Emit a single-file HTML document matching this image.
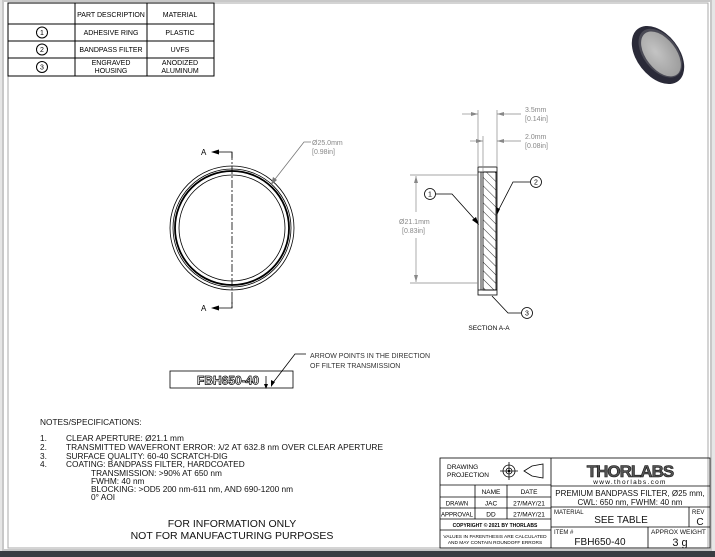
<!DOCTYPE html>
<html><head><meta charset="utf-8"><style>
html,body{margin:0;padding:0;background:#fff;}
svg{display:block;font-family:"Liberation Sans",sans-serif;}
</style></head><body>
<svg width="715" height="557" viewBox="0 0 715 557" xmlns="http://www.w3.org/2000/svg">
<defs>
<pattern id="h" width="6" height="6" patternUnits="userSpaceOnUse" patternTransform="rotate(-45)">
<line x1="0" y1="0" x2="0" y2="6" stroke="#000" stroke-width="0.8"/></pattern>
<radialGradient id="lg" cx="0.4" cy="0.4" r="0.7"><stop offset="0" stop-color="#c4c4c4"/><stop offset="1" stop-color="#9a9a9a"/></radialGradient>
</defs>
<rect width="715" height="557" fill="#e6e6e6"/>
<rect x="3" y="1" width="708" height="549" fill="#fff" stroke="#c8c8c8" stroke-width="2"/>
<rect x="8" y="3" width="700" height="545" fill="#fff" stroke="#aaa" stroke-width="1"/>
<rect x="0" y="551" width="715" height="6" fill="#3a3d42"/>

<!-- parts table -->
<g stroke="#000" stroke-width="1" fill="none">
<rect x="8" y="3" width="206" height="73"/>
<line x1="75" y1="3" x2="75" y2="76"/><line x1="147" y1="3" x2="147" y2="76"/>
<line x1="8" y1="24" x2="214" y2="24"/><line x1="8" y1="41" x2="214" y2="41"/><line x1="8" y1="58" x2="214" y2="58"/>
<circle cx="42" cy="32.5" r="5.5"/><circle cx="42" cy="49.5" r="5.5"/><circle cx="42" cy="67" r="5.5"/>
</g>
<g font-size="7" text-anchor="middle" fill="#000">
<text x="42" y="35">1</text><text x="42" y="52">2</text><text x="42" y="69.5">3</text>
<text x="111" y="17">PART DESCRIPTION</text><text x="180" y="17">MATERIAL</text>
<text x="111" y="35">ADHESIVE RING</text><text x="180" y="35">PLASTIC</text>
<text x="111" y="52">BANDPASS FILTER</text><text x="180" y="52">UVFS</text>
<text x="111" y="65">ENGRAVED</text><text x="111" y="73">HOUSING</text>
<text x="180" y="65">ANODIZED</text><text x="180" y="73">ALUMINUM</text>
</g>

<!-- 3D filter image -->
<g transform="translate(658,55) rotate(-38)">
<ellipse cx="0" cy="0" rx="21" ry="33" fill="#2a2a38"/>
<ellipse cx="3" cy="0" rx="17" ry="28" fill="#4a4a55"/>
<ellipse cx="3" cy="1" rx="15" ry="26" fill="url(#lg)"/>
</g>

<!-- front view -->
<g fill="none" stroke="#000">
<circle cx="232" cy="228" r="62" stroke-width="0.8"/>
<circle cx="232" cy="228" r="59" stroke-width="0.8"/>
<circle cx="232" cy="228" r="57" stroke-width="1.8"/>
<circle cx="232" cy="228" r="53" stroke-width="0.8"/>
<line x1="232" y1="152" x2="232" y2="308" stroke-width="0.8" stroke-dasharray="8,2,2,2"/>
<polyline points="214,152 232,152 232,158" stroke-width="0.8"/>
<polyline points="214,308 232,308 232,300" stroke-width="0.8"/>
</g>
<polygon points="211,152 219,149.5 219,154.5" fill="#000"/>
<polygon points="211,308 219,305.5 219,310.5" fill="#000"/>
<text x="201" y="155" font-size="8">A</text><text x="201" y="311" font-size="8">A</text>
<g stroke="#777" fill="none" stroke-width="0.8"><polyline points="272,183 304,142 311,142"/></g>
<polygon points="271,185 273,177 277,180" fill="#777"/>
<g font-size="7" fill="#888"><text x="312" y="145">Ø25.0mm</text><text x="312" y="154">[0.98in]</text></g>

<!-- section view -->
<g stroke="#000" fill="none" stroke-width="0.8">
<rect x="478" y="167" width="19" height="128"/>
<rect x="483" y="172" width="13" height="118" fill="url(#h)"/>
<line x1="481" y1="172" x2="481" y2="290"/>
<line x1="478" y1="172" x2="497" y2="172"/><line x1="478" y1="290" x2="497" y2="290"/>
</g>
<g stroke="#888" fill="none" stroke-width="0.7">
<line x1="478" y1="110" x2="478" y2="167"/><line x1="497" y1="110" x2="497" y2="167"/>
<line x1="462" y1="114" x2="478" y2="114"/><line x1="497" y1="114" x2="521" y2="114"/>
<line x1="483" y1="136" x2="483" y2="172"/>
<line x1="470" y1="141" x2="483" y2="141"/><line x1="497" y1="141" x2="521" y2="141"/>
<line x1="410" y1="175" x2="478" y2="175"/><line x1="410" y1="283" x2="478" y2="283"/>
<line x1="416" y1="176" x2="416" y2="212"/><line x1="416" y1="238" x2="416" y2="282"/>
</g>
<g fill="#888">
<polygon points="478,114 471,112 471,116"/><polygon points="497,114 504,112 504,116"/>
<polygon points="483,141 476,139 476,143"/><polygon points="497,141 504,139 504,143"/>
<polygon points="416,176 414,183 418,183"/><polygon points="416,282 414,275 418,275"/>
</g>
<g font-size="7" fill="#888">
<text x="525" y="112">3.5mm</text><text x="525" y="121">[0.14in]</text>
<text x="525" y="139">2.0mm</text><text x="525" y="148">[0.08in]</text>
<text x="399" y="224">Ø21.1mm</text><text x="402" y="233">[0.83in]</text>
</g>
<g stroke="#000" fill="none" stroke-width="0.8">
<circle cx="430" cy="194" r="5.5"/><polyline points="436,194 452,194 478,223"/>
<circle cx="536" cy="182" r="5.5"/><polyline points="530,182 513,182 497,213"/>
<circle cx="527" cy="313" r="5.5"/><polyline points="521,313 508,313 492,296"/>
</g>
<polygon points="479,225 472,220 476,217" fill="#000"/>
<polygon points="497,215 496,207 500,209" fill="#000"/>
<g font-size="7" text-anchor="middle"><text x="430" y="196.5">1</text><text x="536" y="184.5">2</text><text x="527" y="315.5">3</text></g>
<text x="489" y="330" font-size="6.5" text-anchor="middle">SECTION A-A</text>

<!-- engraving -->
<rect x="170" y="371" width="123" height="17" fill="none" stroke="#000" stroke-width="0.8"/>
<text x="228" y="384.5" font-size="12" font-weight="bold" text-anchor="middle" fill="#fff" stroke="#000" stroke-width="0.7">FBH650-40</text>
<g stroke="#000" fill="none" stroke-width="0.8"><line x1="266" y1="376" x2="266" y2="388"/><polyline points="272,384 295,354 306,354"/></g>
<polygon points="264,384 268,384 266,389" fill="#000"/>
<polygon points="271,387 271,380 275,382" fill="#000"/>
<g font-size="7" fill="#333"><text x="310" y="358">ARROW POINTS IN THE DIRECTION</text><text x="310" y="368">OF FILTER TRANSMISSION</text></g>

<!-- notes -->
<g font-size="8.3" fill="#111">
<text x="40" y="425">NOTES/SPECIFICATIONS:</text>
<text x="40" y="441">1.</text><text x="66" y="441">CLEAR APERTURE: Ø21.1 mm</text>
<text x="40" y="450">2.</text><text x="66" y="450" textLength="317">TRANSMITTED WAVEFRONT ERROR: λ/2 AT 632.8 nm OVER CLEAR APERTURE</text>
<text x="40" y="459">3.</text><text x="66" y="459">SURFACE QUALITY: 60-40 SCRATCH-DIG</text>
<text x="40" y="467">4.</text><text x="66" y="467">COATING: BANDPASS FILTER, HARDCOATED</text>
<text x="91" y="476">TRANSMISSION: &gt;90% AT 650 nm</text>
<text x="91" y="484">FWHM: 40 nm</text>
<text x="91" y="492">BLOCKING: &gt;OD5 200 nm-611 nm, AND 690-1200 nm</text>
<text x="91" y="500">0° AOI</text>
</g>
<g font-size="10.5" text-anchor="middle" fill="#111"><text x="232" y="527">FOR INFORMATION ONLY</text><text x="232" y="539">NOT FOR MANUFACTURING PURPOSES</text></g>

<!-- title block -->
<g stroke="#000" fill="none" stroke-width="0.8">
<rect x="440" y="458" width="270" height="90"/>
<line x1="551" y1="458" x2="551" y2="548"/>
<line x1="440" y1="485" x2="551" y2="485"/><line x1="440" y1="497" x2="551" y2="497"/>
<line x1="440" y1="508" x2="551" y2="508"/><line x1="440" y1="519" x2="551" y2="519"/>
<line x1="440" y1="530" x2="551" y2="530"/>
<line x1="475" y1="485" x2="475" y2="519"/><line x1="507" y1="485" x2="507" y2="519"/>
<line x1="551" y1="486" x2="710" y2="486"/><line x1="551" y1="507" x2="710" y2="507"/>
<line x1="551" y1="527" x2="710" y2="527"/>
<line x1="689" y1="507" x2="689" y2="527"/><line x1="648" y1="527" x2="648" y2="548"/>
<circle cx="509" cy="471" r="6"/><circle cx="509" cy="471" r="3"/>
<line x1="500" y1="471" x2="518" y2="471"/><line x1="509" y1="462" x2="509" y2="480"/>
<polygon points="524,471 532,466 543,464 543,478 532,476"/>
</g>
<circle cx="509" cy="471" r="1.3" fill="#000"/>
<g font-size="6.5" fill="#000">
<text x="447" y="469">DRAWING</text><text x="447" y="477">PROJECTION</text>
<text x="491" y="494" text-anchor="middle">NAME</text><text x="529" y="494" text-anchor="middle">DATE</text>
<text x="457" y="505.5" text-anchor="middle" font-size="6">DRAWN</text><text x="491" y="505.5" text-anchor="middle">JAC</text><text x="529" y="505.5" text-anchor="middle">27/MAY/21</text>
<text x="457" y="516.5" text-anchor="middle" font-size="6">APPROVAL</text><text x="491" y="516.5" text-anchor="middle">DD</text><text x="529" y="516.5" text-anchor="middle">27/MAY/21</text>
<text x="495" y="527" text-anchor="middle" font-size="5" font-weight="bold">COPYRIGHT © 2021 BY THORLABS</text>
<text x="495" y="538" text-anchor="middle" font-size="4.8">VALUES IN PARENTHESIS ARE CALCULATED</text>
<text x="495" y="544" text-anchor="middle" font-size="4.8">AND MAY CONTAIN ROUNDOFF ERRORS</text>
</g>
<text x="630" y="477" font-size="17" font-weight="bold" text-anchor="middle" fill="#555" stroke="#111" stroke-width="0.6" letter-spacing="-1">THORLABS</text>
<text x="630" y="484" font-size="6.5" text-anchor="middle" letter-spacing="1.3">www.thorlabs.com</text>
<g fill="#111">
<text x="630" y="496" font-size="8" text-anchor="middle">PREMIUM BANDPASS FILTER, Ø25 mm,</text>
<text x="630" y="505" font-size="8" text-anchor="middle">CWL: 650 nm, FWHM: 40 nm</text>
<text x="554" y="514" font-size="6">MATERIAL</text>
<text x="621" y="523" font-size="10" text-anchor="middle">SEE TABLE</text>
<text x="692" y="514" font-size="6">REV</text><text x="700" y="525" font-size="10" text-anchor="middle">C</text>
<text x="554" y="534" font-size="6">ITEM #</text>
<text x="600" y="545" font-size="10" text-anchor="middle">FBH650-40</text>
<text x="651" y="534" font-size="6.5">APPROX WEIGHT</text>
<text x="680" y="546" font-size="11" text-anchor="middle">3 g</text>
</g>
</svg>
</body></html>
